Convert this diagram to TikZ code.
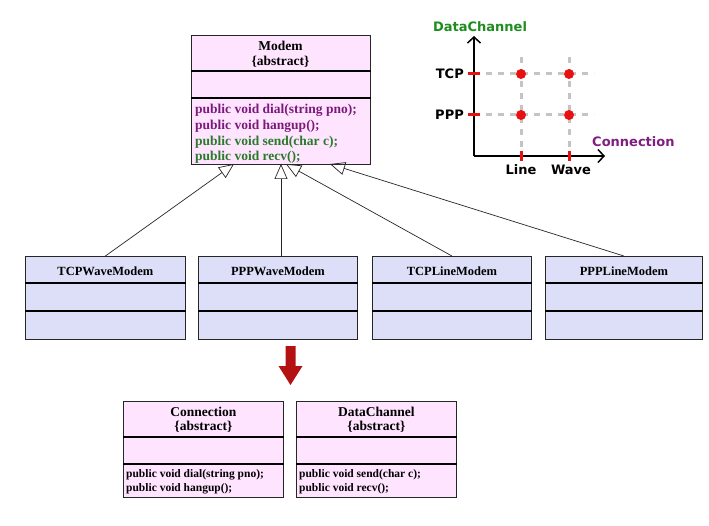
\documentclass[tikz,border=0pt]{standalone}
\usepackage{fontspec}
\setmainfont{Liberation Serif}
\newfontfamily\chartfont{DejaVu Sans}
\usetikzlibrary{arrows.meta}
\definecolor{pinkfill}{HTML}{FFE4FF}
\definecolor{bluefill}{HTML}{DDDFF8}
\definecolor{mpurple}{HTML}{7A1A7A}
\definecolor{mgreen}{HTML}{2A7A2A}
\definecolor{cgreen}{HTML}{1E8C1E}
\definecolor{cpurple}{HTML}{7F1F7F}
\definecolor{dred}{HTML}{B41212}
\definecolor{gridgrey}{HTML}{C4C4C4}
\definecolor{ptred}{HTML}{E81010}
\begin{document}
\begin{tikzpicture}[x=1pt,y=-1pt,
  cls/.style={draw=black!85, line width=0.8pt, inner sep=0pt, anchor=north west},
  divider/.style={line width=1.6pt, black},
  inh/.style={-{Triangle[open,length=15pt,width=13pt]}, line width=0.7pt, black!85},
  ttl/.style={font=\fontsize{13.5}{15}\selectfont\bfseries, inner sep=0pt},
  subttl/.style={font=\fontsize{12.5}{15}\selectfont\bfseries, inner sep=0pt},
  meth/.style={font=\fontsize{13.5}{16}\selectfont\bfseries, inner sep=0pt, anchor=west},
  smeth/.style={font=\fontsize{11.5}{14}\selectfont\bfseries, inner sep=0pt, anchor=west},
  chl/.style={font=\chartfont\fontsize{13}{15}\selectfont\bfseries, inner sep=0pt},
  axis/.style={line width=1.8pt, black, -{Straight Barb[length=6pt,width=13pt,line width=1.5pt]}},
  grid/.style={line width=3pt, gridgrey, dash pattern=on 6pt off 6pt},
  rtick/.style={line width=3pt, ptred},
  dot/.style={circle, fill=ptred, inner sep=0pt, minimum size=10pt}
]
\useasboundingbox (0,0) rectangle (709,526);
\fill[white] (0,0) rectangle (709,526);

% ---------- Modem ----------
\node[cls, fill=pinkfill, minimum width=179pt, minimum height=129pt] (modem) at (191,35) {};
\draw[divider] (modem.west |- 0,71) -- (modem.east |- 0,71);
\draw[divider] (modem.west |- 0,98) -- (modem.east |- 0,98);
\node[ttl] (modemN) at (280.5,46) {Modem};
\node[ttl] (modemA) at (280.5,62) {\{abstract\}};
\node[meth, text=mpurple] (mm1) at (195,110) {public void dial(string pno);};
\node[meth, text=mpurple] (mm2) at (195,126) {public void hangup();};
\node[meth, text=mgreen] (mm3) at (195,142) {public void send(char c);};
\node[meth, text=mgreen] (mm4) at (195,157) {public void recv();};

% ---------- subclasses ----------
\foreach \nm/\x/\w/\lab in {tcpw/25/160/TCPWaveModem, pppw/198/159/PPPWaveModem, tcpl/372/159/TCPLineModem, pppl/545/157/PPPLineModem}{
  \node[cls, fill=bluefill, minimum width=\w pt, minimum height=83pt] (\nm) at (\x,256) {};
  \draw[divider] (\nm.west |- 0,283) -- (\nm.east |- 0,283);
  \draw[divider] (\nm.west |- 0,311) -- (\nm.east |- 0,311);
  \node[subttl] (\nm T) at (\nm.north |- 0,271) {\lab};
}

% ---------- inheritance ----------
\coordinate (t1) at (234,164);
\coordinate (t2) at (281,164);
\coordinate (t3) at (286,164);
\coordinate (t4) at (330,164);
\draw[inh] (tcpw.north) -- (t1);
\draw[inh] (pppw.north -| t2) -- (t2);
\draw[inh] (tcpl.north) -- (t3);
\draw[inh] (pppl.north) -- (t4);

% ---------- red arrow ----------
\fill[dred] (285.5,346) -- (295.5,346) -- (295.5,366) -- (302.5,366) -- (290.5,385) -- (278.5,366) -- (285.5,366) -- cycle;

% ---------- Connection / DataChannel ----------
\node[cls, fill=pinkfill, minimum width=160pt, minimum height=96pt] (conn) at (123,401) {};
\draw[divider] (conn.west |- 0,437) -- (conn.east |- 0,437);
\draw[divider] (conn.west |- 0,464) -- (conn.east |- 0,464);
\node[ttl] (connN) at (conn.north |- 0,412) {Connection};
\node[ttl] (connA) at (conn.north |- 0,427) {\{abstract\}};
\node[smeth] (cm1) at (126,475) {public void dial(string pno);};
\node[smeth] (cm2) at (126,489) {public void hangup();};

\node[cls, fill=pinkfill, minimum width=160pt, minimum height=96pt] (dch) at (296,401) {};
\draw[divider] (dch.west |- 0,437) -- (dch.east |- 0,437);
\draw[divider] (dch.west |- 0,464) -- (dch.east |- 0,464);
\node[ttl] (dchN) at (dch.north |- 0,412) {DataChannel};
\node[ttl] (dchA) at (dch.north |- 0,427) {\{abstract\}};
\node[smeth] (dm1) at (299,475) {public void send(char c);};
\node[smeth] (dm2) at (299,489) {public void recv();};

% ---------- chart ----------
\coordinate (O) at (474,156);
\coordinate (ytop) at (474,36);
\coordinate (xend) at (605,156);
\draw[grid] (486,74) -- (594,74);
\draw[grid] (486,115) -- (594,115);
\draw[grid] (521,57) -- (521,150);
\draw[grid] (569,57) -- (569,150);
\draw[axis] (O) -- (ytop);
\draw[axis] (O) -- (xend);
\draw[rtick] (468,74) -- (480,74);
\draw[rtick] (468,115) -- (480,115);
\draw[rtick] (521,151) -- (521,161);
\draw[rtick] (569,151) -- (569,161);
\node[dot] (d1) at (521,74) {};
\node[dot] (d2) at (569,74) {};
\node[dot] (d3) at (521,115) {};
\node[dot] (d4) at (569,115) {};
\node[chl, text=cgreen] (ylab) at (480,27) {DataChannel};
\node[chl, text=cpurple, anchor=west] (xlab) at (592,142) {Connection};
\node[chl, anchor=east] (tcp) at (464,74) {TCP};
\node[chl, anchor=east] (ppp) at (464,115) {PPP};
\node[chl] (line) at (521,170) {Line};
\node[chl] (wave) at (571,170) {Wave};
\end{tikzpicture}
\end{document}
